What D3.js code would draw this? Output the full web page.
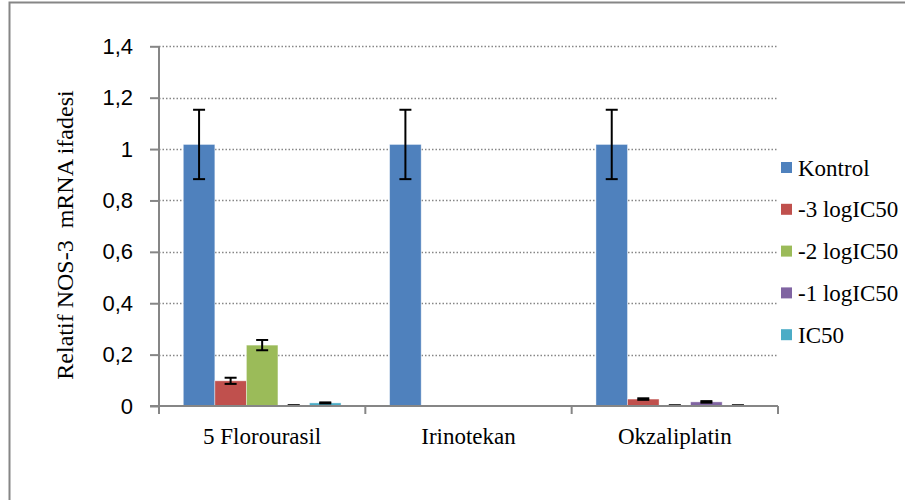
<!DOCTYPE html>
<html>
<head>
<meta charset="utf-8">
<script src="https://cdn.jsdelivr.net/npm/d3@7"></script>
<style>
  body { margin: 0; background: #fff; }
  svg { display: block; }
</style>
</head>
<body>
<div id="container"></div>
<script>
let categories = ['5 Florourasil', 'Irinotekan', 'Okzaliplatin']
let seriesNames = ['Kontrol', '-3 logIC50', '-2 logIC50', '-1 logIC50', 'IC50']
let seriesColors = ['#4F81BD', '#C0504D', '#9BBB59', '#8064A2', '#4BACC6']
let kontrol = [1.018, 1.018, 1.018]
let minus3 = [0.098, 0, 0.027]
let minus2 = [0.237, 0, 0.002]
let minus1 = [0.002, 0, 0.016]
let ic50 = [0.012, 0, 0.002]
let kontrolErr = [0.135, 0.135, 0.135]
let minus3Err = [0.012, 0, 0.003]
let minus2Err = [0.02, 0, 0]
let minus1Err = [0.001, 0, 0.003]
let ic50Err = [0.002, 0, 0]
let yTicks = [0, 0.2, 0.4, 0.6, 0.8, 1, 1.2, 1.4]

let values = [kontrol, minus3, minus2, minus1, ic50]
let errors = [kontrolErr, minus3Err, minus2Err, minus1Err, ic50Err]

let width = 905,
  height = 500,
  plot = { left: 159, right: 778, top: 46.3, bottom: 406 }

let xScale = d3.scaleBand().domain(categories).range([plot.left, plot.right])
let sScale = d3.scaleBand().domain(seriesNames).range([0, xScale.bandwidth()]).paddingOuter(0.77)
let yScale = d3.scaleLinear().domain([0, 1.4]).range([plot.bottom, plot.top])

let axisColor = '#868686'

let svg = d3.select('#container')
  .append('svg')
  .attr('width', width)
  .attr('height', height)

// outer chart frame
svg.append('rect')
  .attr('x', 9.5).attr('y', 2.5)
  .attr('width', 1000).attr('height', 1000)
  .attr('fill', 'none')
  .attr('stroke', axisColor)
  .attr('stroke-width', 2)

// gridlines
svg.append('g')
  .selectAll('line')
  .data(yTicks.slice(1))
  .join('line')
  .attr('x1', plot.left).attr('x2', plot.right)
  .attr('y1', d => Math.round(yScale(d)) + 0.5)
  .attr('y2', d => Math.round(yScale(d)) + 0.5)
  .attr('stroke', axisColor)
  .attr('stroke-width', 1.3)
  .attr('stroke-dasharray', '1.5,2')

// bars
let rows = []
categories.forEach((c, ci) => {
  seriesNames.forEach((s, si) => {
    rows.push({ cat: c, series: s, si: si, v: values[si][ci], e: errors[si][ci] })
  })
})

svg.append('g')
  .selectAll('rect')
  .data(rows.filter(d => d.v > 0))
  .join('rect')
  .attr('x', d => xScale(d.cat) + sScale(d.series))
  .attr('width', sScale.bandwidth())
  .attr('y', d => yScale(d.v))
  .attr('height', d => yScale(0) - yScale(d.v))
  .attr('fill', d => seriesColors[d.si])
  .attr('stroke', '#fff')
  .attr('stroke-opacity', 0.5)
  .attr('stroke-width', 0.8)

// error bars
let errG = svg.append('g')
  .selectAll('g')
  .data(rows.filter(d => d.v > 0))
  .join('g')
  .attr('transform', d => 'translate(' + (xScale(d.cat) + sScale(d.series) + sScale.bandwidth() / 2) + ',0)')

errG.append('line')
  .attr('y1', d => yScale(d.v + d.e))
  .attr('y2', d => yScale(Math.max(0, d.v - d.e)))
  .attr('stroke', '#000')
  .attr('stroke-width', 2)
errG.selectAll('.cap')
  .data(d => [d.v + d.e, Math.max(0, d.v - d.e)])
  .join('line')
  .attr('class', 'cap')
  .attr('x1', -6).attr('x2', 6)
  .attr('y1', d => yScale(d)).attr('y2', d => yScale(d))
  .attr('stroke', '#000')
  .attr('stroke-width', 2)

// y axis
let yAxis = d3.axisLeft(yScale)
  .tickValues(yTicks)
  .tickSize(9)
  .tickPadding(17)
  .tickFormat(d => String(d).replace('.', ','))

let yg = svg.append('g')
  .attr('transform', 'translate(' + plot.left + ',0)')
  .call(yAxis)
yg.select('.domain').remove()
yg.append('line')
  .attr('y1', plot.top).attr('y2', plot.bottom)
  .attr('stroke', axisColor).attr('stroke-width', 2)
yg.selectAll('.tick line').attr('stroke', axisColor).attr('stroke-width', 2)
yg.selectAll('.tick text')
  .attr('fill', '#000')
  .attr('font-family', 'Liberation Sans, Arial, sans-serif')
  .attr('font-size', 22)

// x axis
let xAxis = d3.axisBottom(xScale).tickSize(0).tickPadding(22)
let xg = svg.append('g')
  .attr('transform', 'translate(0,' + plot.bottom + ')')
  .call(xAxis)
xg.select('.domain').remove()
xg.append('line')
  .attr('x1', plot.left - 9).attr('x2', plot.right)
  .attr('stroke', axisColor).attr('stroke-width', 2)
xg.selectAll('.sep')
  .data(categories.map(c => xScale(c)).concat([plot.right]))
  .join('line')
  .attr('class', 'sep')
  .attr('x1', d => d).attr('x2', d => d)
  .attr('y1', 0).attr('y2', 8)
  .attr('stroke', axisColor).attr('stroke-width', 2)
xg.selectAll('.tick text')
  .attr('fill', '#000')
  .attr('font-family', 'Liberation Serif, Times New Roman, serif')
  .attr('font-size', 23)

// y axis title
svg.append('text')
  .text('Relatif NOS-3  mRNA ifadesi')
  .attr('transform', 'translate(73,235) rotate(-90)')
  .attr('text-anchor', 'middle')
  .attr('font-family', 'Liberation Serif, Times New Roman, serif')
  .attr('font-size', 24)
  .style('white-space', 'pre')

// legend
let legend = svg.append('g')
  .selectAll('g')
  .data(seriesNames)
  .join('g')
  .attr('transform', (d, i) => 'translate(781,' + (167.5 + i * 41.8) + ')')
legend.append('rect')
  .attr('x', 0).attr('y', -5.5)
  .attr('width', 11).attr('height', 11)
  .attr('fill', (d, i) => seriesColors[i])
legend.append('text')
  .text(d => d)
  .attr('x', 17)
  .attr('y', 8)
  .attr('font-family', 'Liberation Serif, Times New Roman, serif')
  .attr('font-size', 23)
</script>
</body>
</html>
